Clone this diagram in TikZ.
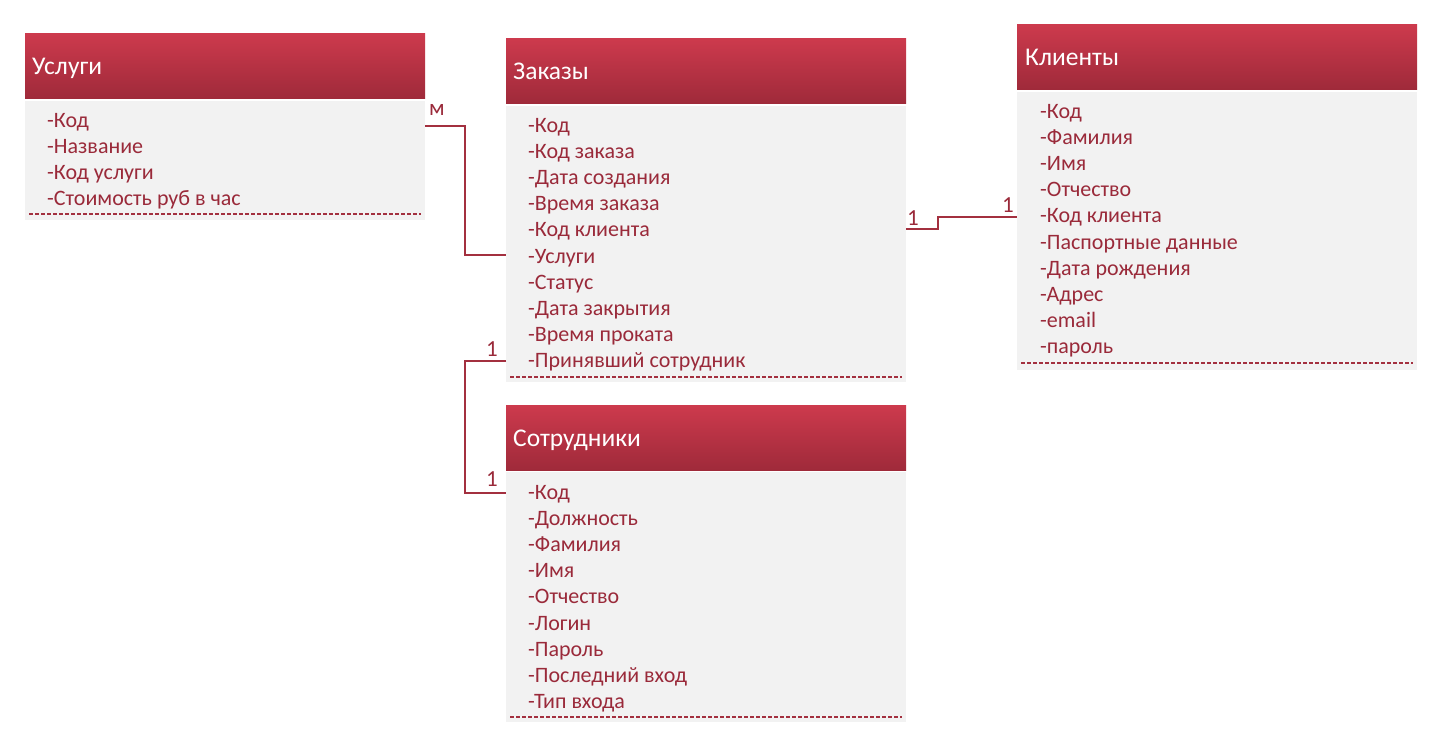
\documentclass[tikz,border=0pt]{standalone}
\usepackage{fontspec}
\setmainfont{Carlito}
\definecolor{htop}{HTML}{CD3A4D}
\definecolor{hbot}{HTML}{9F2A3A}
\definecolor{bodyg}{HTML}{F2F2F2}
\definecolor{itemc}{HTML}{9A2A3A}
\definecolor{linec}{HTML}{A3303F}
\tikzset{
  hdr/.style={rectangle, inner sep=0pt, minimum width=400pt, minimum height=65pt, anchor=north west, top color=htop, bottom color=hbot, draw=none},
  bodybox/.style={rectangle, inner sep=0pt, minimum width=400pt, anchor=north west, fill=bodyg, draw=none},
  ttl/.style={anchor=base west, inner sep=0pt, text=white, font=\fontsize{25.5}{30}\selectfont},
  itm/.style={anchor=base west, inner sep=0pt, text=itemc, font=\fontsize{22}{26}\selectfont},
  card/.style={anchor=base, inner sep=0pt, text=itemc, font=\fontsize{23}{27}\selectfont},
  dashln/.style={draw=linec, line width=1.4pt, dash pattern=on 4pt off 2pt},
  conn/.style={draw=linec, line width=2pt},
}
\begin{document}
\begin{tikzpicture}[x=1pt,y=-1pt]
\useasboundingbox (0,0) rectangle (1449,740);
% Услуги
\node[hdr] (uh) at (25,33) {};
\node[bodybox, minimum height=119pt] (ub) at (25,101) {};
\node[ttl] (ut) at (32,74) {Услуги};
\foreach \t [count=\i] in {-Код,-Название,-Код услуги,-Стоимость руб в час}
  \node[itm] (u\i) at (47,{127+26.2*(\i-1)}) {\t};
\draw[dashln] (29,214) -- (421,214);
% Заказы
\node[hdr] (zh) at (506,38) {};
\node[bodybox, minimum height=276pt] (zb) at (506,106) {};
\node[ttl] (zt) at (513,79) {Заказы};
\foreach \t [count=\i] in {-Код,-Код заказа,-Дата создания,-Время заказа,-Код клиента,-Услуги,-Статус,-Дата закрытия,-Время проката,-Принявший сотрудник}
  \node[itm] (z\i) at (528,{132+26.2*(\i-1)}) {\t};
\draw[dashln] (510,377) -- (902,377);
% Клиенты
\node[hdr] (kh) at (1017,24) {};
\node[bodybox, minimum height=278pt] (kb) at (1017,92) {};
\node[ttl] (kt) at (1025,65) {Клиенты};
\foreach \t [count=\i] in {-Код,-Фамилия,-Имя,-Отчество,-Код клиента,-Паспортные данные,-Дата рождения,-Адрес,-email,-пароль}
  \node[itm] (k\i) at (1040,{118+26.2*(\i-1)}) {\t};
\draw[dashln] (1021,363) -- (1413,363);
% Сотрудники
\node[hdr] (sh) at (506,405) {};
\node[bodybox, minimum height=250pt] (sb) at (506,472) {};
\node[ttl] (st) at (513,446) {Сотрудники};
\foreach \t [count=\i] in {-Код,-Должность,-Фамилия,-Имя,-Отчество,-Логин,-Пароль,-Последний вход,-Тип входа}
  \node[itm] (s\i) at (528,{499+26.2*(\i-1)}) {\t};
\draw[dashln] (510,717) -- (902,717);
% connectors
\coordinate (a1) at (ub.east |- 0,126);
\coordinate (a2) at (zb.west |- 0,255);
\draw[conn] (a1) -- (465,126) -- (465,255) -- (a2);
\node[card] (cm) at (437,115) {м};
\coordinate (b1) at (zb.east |- 0,229);
\coordinate (b2) at (kb.west |- 0,217);
\draw[conn] (b1) -- (938,229) -- (938,217) -- (b2);
\node[card] (c1) at (913,225) {1};
\node[card] (c2) at (1008,212) {1};
\coordinate (d1) at (zb.west |- 0,361);
\coordinate (d2) at (sb.west |- 0,493);
\draw[conn] (d1) -- (465,361) -- (465,493) -- (d2);
\node[card] (c3) at (492,356) {1};
\node[card] (c4) at (492,486) {1};
\end{tikzpicture}
\end{document}
